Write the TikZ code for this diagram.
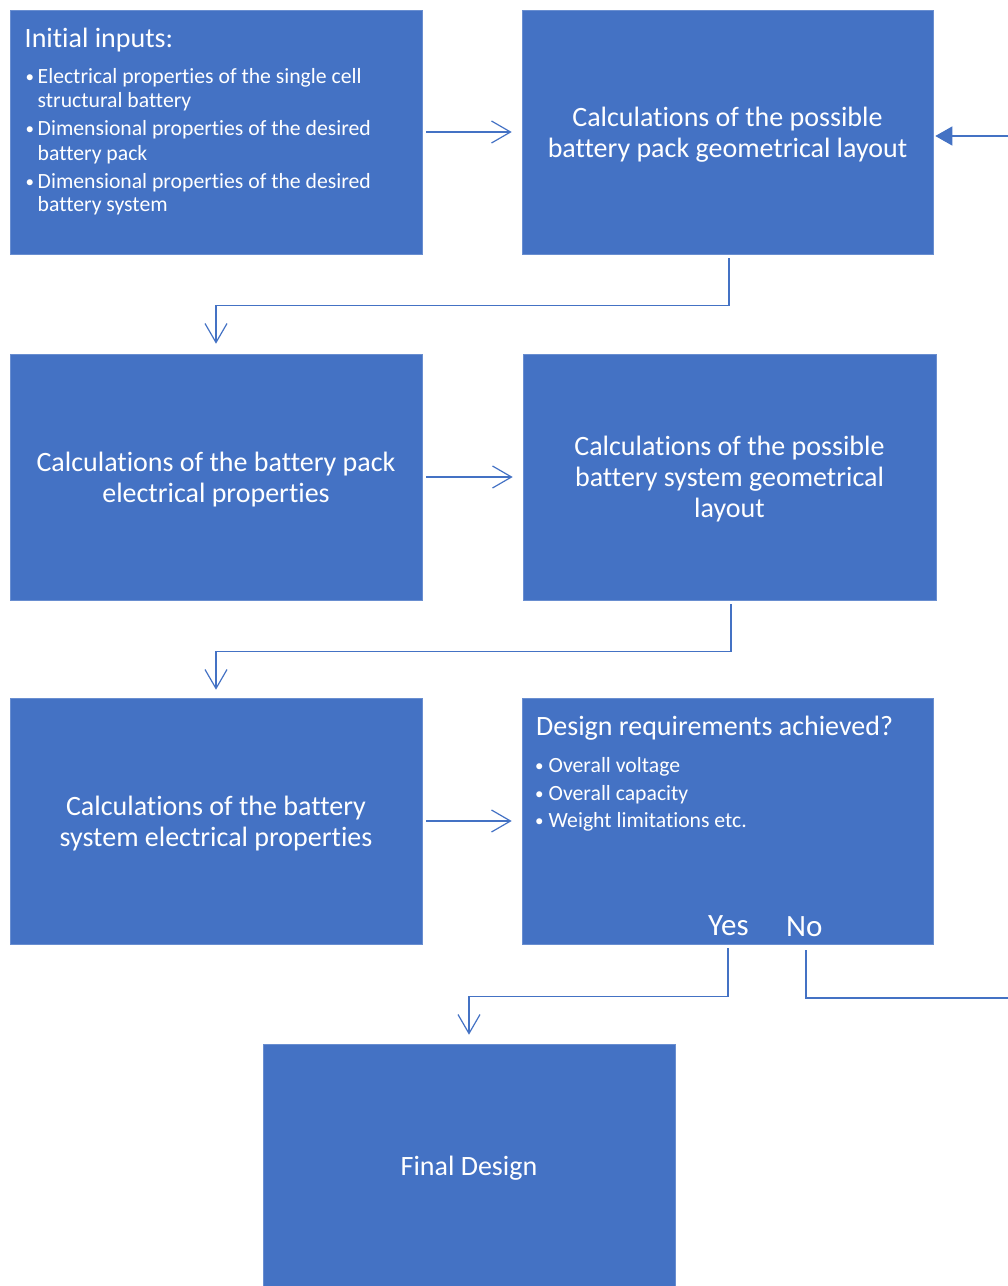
\documentclass[tikz,border=0pt]{standalone}
\usepackage{fontspec}
\setmainfont{Carlito}[Ligatures=NoCommon]
\usetikzlibrary{arrows.meta,calc}
\definecolor{boxblue}{HTML}{4472C4}
% small list bullet followed by a fixed gap
\newcommand{\listdot}[1]{\makebox[#1][l]{\raisebox{0.5pt}{\fontsize{17}{17}\selectfont •}}}
\begin{document}
\begin{tikzpicture}[x=1pt,y=-1pt,
  block/.style={fill=boxblue,draw=boxblue!80!white,line width=0.6pt,inner sep=0pt},
  bigtext/.style={text=white,font=\fontsize{28}{31}\selectfont,align=center,yshift=-2.5pt},
  listtext/.style={text=white,font=\fontsize{21.7}{24}\selectfont,anchor=base west,inner sep=0pt},
  headtext/.style={text=white,font=\fontsize{28}{31}\selectfont,anchor=base west,inner sep=0pt},
  arr/.style={draw=boxblue,line width=1.2pt,-{Straight Barb[length=19pt,width=22pt,line width=1.2pt]}},
  loop/.style={draw=boxblue,line width=1.2pt,-{Triangle[length=17pt,width=19pt]}}]
\useasboundingbox (0,0) rectangle (1008,1286);

% process boxes
\node[block,minimum width=412pt,minimum height=244pt] (A) at (216,132) {};
\node[block,minimum width=411pt,minimum height=244pt] (B) at (727.5,132) {};
\node[block,minimum width=412pt,minimum height=246pt] (C) at (216,477) {};
\node[block,minimum width=413pt,minimum height=246pt] (D) at (729.5,477) {};
\node[block,minimum width=412pt,minimum height=246pt] (E) at (216,821) {};
\node[block,minimum width=411pt,minimum height=246pt] (F) at (727.5,821) {};
\node[block,minimum width=412pt,minimum height=244pt] (G) at (469,1166) {};

% inputs box
\node[headtext] (a0) at (24.5,47) {Initial inputs:};
\node[listtext] (a1) at (25.5,83) {\listdot{12pt}Electrical properties of the single cell};
\node[listtext] (a2) at (37.5,107) {structural battery};
\node[listtext] (a3) at (25.5,135) {\listdot{12pt}Dimensional properties of the desired};
\node[listtext] (a4) at (37.5,160) {battery pack};
\node[listtext] (a5) at (25.5,188) {\listdot{12pt}Dimensional properties of the desired};
\node[listtext] (a6) at (37.5,211) {battery system};

% centred labels
\node[bigtext] (bt) at (B) {Calculations of the possible\\battery pack geometrical layout};
\node[bigtext] (ct) at (C) {Calculations of the battery pack\\electrical properties};
\node[bigtext] (dt) at (D) {Calculations of the possible\\battery system geometrical\\layout};
\node[bigtext] (et) at (E) {Calculations of the battery\\system electrical properties};
\node[bigtext] (gt) at (469,1166) {Final Design};

% requirements box
\node[headtext] (f0) at (536,735) {Design requirements achieved?};
\node[listtext] (f1) at (535,772) {\listdot{13.5pt}Overall voltage};
\node[listtext] (f2) at (535,800) {\listdot{13.5pt}Overall capacity};
\node[listtext] (f3) at (535,827) {\listdot{13.5pt}Weight limitations etc.};
\node[headtext,font=\fontsize{31}{34}\selectfont] (yes) at (708,935) {Yes};
\node[headtext,font=\fontsize{31}{34}\selectfont] (no) at (786,936) {No};

% connectors
\draw[arr,shorten <=4pt,shorten >=10pt] (A.east) -- (B.west);
\draw[arr,shorten <=4pt,shorten >=10pt] (C.east) -- (D.west);
\draw[arr,shorten <=4pt,shorten >=10pt] (E.east) -- (F.west);
\draw[arr,shorten <=4pt,shorten >=10pt] ([xshift=1.5pt]B.south) -- ++(0,51) -| (C.north);
\draw[arr,shorten <=4pt,shorten >=8pt] ([xshift=1.5pt]D.south) -- ++(0,51) -| (E.north);
\draw[arr,shorten <=4pt,shorten >=9pt] ([xshift=0.5pt]F.south) -- ++(0,52) -| (G.north);
\coordinate (ret) at (1040,998);
\draw[loop,shorten <=6pt,shorten >=2pt] ([xshift=78.5pt]F.south) |- (ret) |- ([yshift=-4pt]B.east);
\end{tikzpicture}
\end{document}
